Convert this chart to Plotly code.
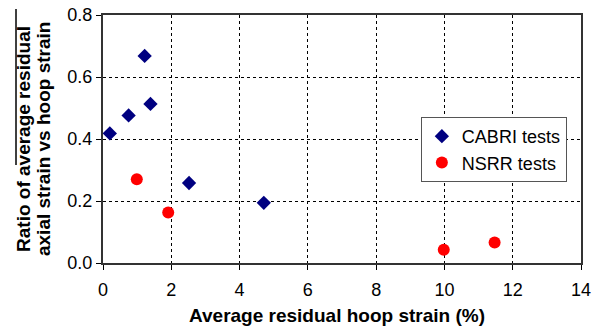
import plotly.graph_objects as go

cabri_x = [0.2, 0.75, 1.22, 1.39, 2.52, 4.71]
cabri_y = [0.418, 0.476, 0.668, 0.513, 0.258, 0.194]
nsrr_x = [0.99, 1.91, 9.98, 11.47]
nsrr_y = [0.270, 0.163, 0.043, 0.066]

x_ticks = [0, 2, 4, 6, 8, 10, 12, 14]
y_ticks = [0.0, 0.2, 0.4, 0.6, 0.8]
y_labels = ["0.0", "0.2", "0.4", "0.6", "0.8"]

fig = go.Figure()
fig.add_trace(go.Scatter(x=cabri_x, y=cabri_y, mode="markers", name="CABRI tests",
                         marker=dict(symbol="diamond", size=11, color="#000080")))
fig.add_trace(go.Scatter(x=nsrr_x, y=nsrr_y, mode="markers", name="NSRR tests",
                         marker=dict(symbol="circle", size=12, color="#FF0000")))

font = "Liberation Sans, Arial, sans-serif"
fig.update_layout(
    width=603, height=331,
    margin=dict(l=103, r=22, t=15, b=68, autoexpand=False),
    paper_bgcolor="white", plot_bgcolor="white",
    font=dict(family=font, size=18, color="black"),
    showlegend=True,
    legend=dict(x=0.665, y=0.589, xanchor="left", yanchor="top",
                bgcolor="white", bordercolor="#555555", borderwidth=1,
                font=dict(size=18), itemwidth=30, tracegroupgap=0),
    xaxis=dict(range=[0, 14], tickvals=x_ticks, showgrid=True,
               gridcolor="black", griddash="dot", gridwidth=1,
               showline=True, linecolor="#333333", linewidth=2, mirror=True,
               ticks="outside", ticklen=5, tickcolor="black", zeroline=False,
               tickfont=dict(size=18), ticklabelstandoff=4, automargin=False),
    yaxis=dict(range=[0, 0.8], tickvals=y_ticks, ticktext=y_labels, showgrid=True,
               gridcolor="black", griddash="dot", gridwidth=1,
               showline=True, linecolor="#333333", linewidth=2, mirror=True,
               ticks="outside", ticklen=5, tickcolor="black", zeroline=False,
               tickfont=dict(size=18), automargin=False),
)
fig.add_annotation(text="<b>Ratio of average residual</b>",
                   xref="paper", yref="paper", x=-0.1674, y=0.5, xanchor="center", yanchor="middle",
                   textangle=-90, showarrow=False, font=dict(size=19))
fig.add_annotation(text="<b>axial strain vs hoop strain</b>",
                   xref="paper", yref="paper", x=-0.1255, y=0.5, xanchor="center", yanchor="middle",
                   textangle=-90, showarrow=False, font=dict(size=19))
fig.add_annotation(text="<b>Average residual hoop strain (%)</b>",
                   xref="paper", yref="paper", x=0.49, y=-0.2097, xanchor="center", yanchor="middle",
                   showarrow=False, font=dict(size=19))
fig.add_shape(type="line", xref="paper", yref="paper", x0=-0.182, x1=-0.182,
              y0=1.024, y1=0.395, line=dict(color="black", width=1.5))
fig.write_html("out.html", config={"displayModeBar": False},
               post_script="document.body.style.margin='0';document.body.style.overflow='hidden';")
